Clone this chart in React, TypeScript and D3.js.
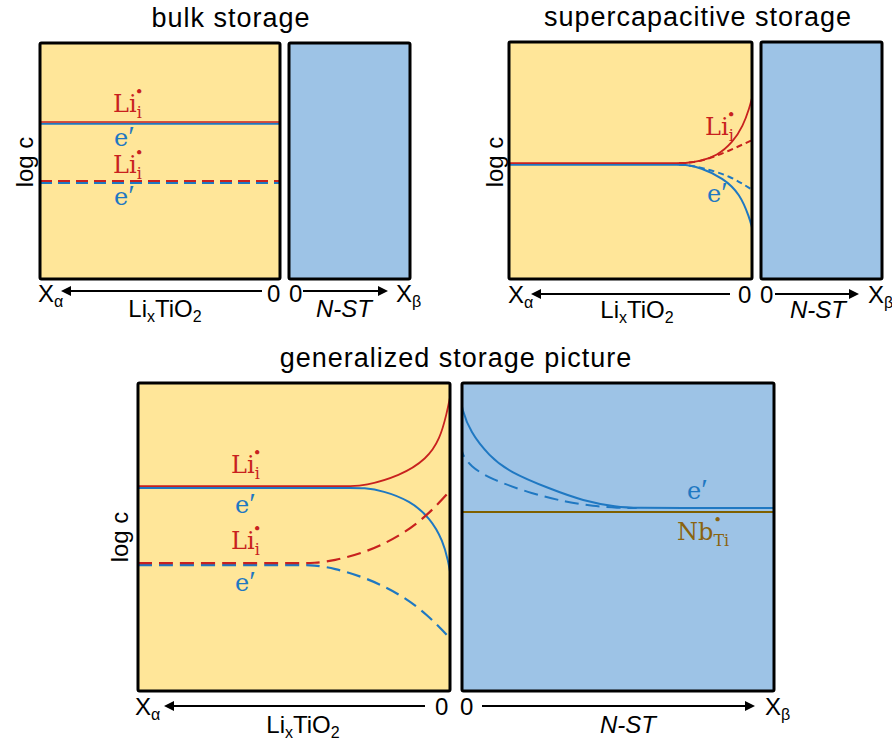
import React from "react";
import * as d3 from "d3";

// ---------- data (x: 0 = left edge of panel, 1 = right edge; y: relative log c, 0 = bottom, 1 = top)
type P = [number, number];
const titles = ["bulk storage", "supercapacitive storage", "generalized storage picture"];

const bulkLiSolid: P[] = [[0, 0.661], [1, 0.661]];
const bulkESolid: P[] = [[0, 0.661], [1, 0.661]];
const bulkLiDash: P[] = [[0, 0.411], [1, 0.411]];
const bulkEDash: P[] = [[0, 0.411], [1, 0.411]];

const superLiSolid: P[] = [[0, 0.485], [0.6, 0.485], [0.7, 0.485], [0.73, 0.485], [0.786, 0.493], [0.856, 0.515], [0.922, 0.574], [0.963, 0.641], [0.99, 0.72], [1, 0.76]];
const superLiDash: P[] = [[0.7, 0.485], [0.73, 0.485], [0.798, 0.494], [0.897, 0.532], [1, 0.582]];
const superEDash: P[] = [[0.7, 0.485], [0.73, 0.485], [0.798, 0.472], [0.909, 0.439], [1, 0.38]];
const superESolid: P[] = [[0, 0.485], [0.6, 0.485], [0.7, 0.485], [0.73, 0.485], [0.786, 0.474], [0.881, 0.43], [0.951, 0.363], [0.99, 0.26], [1, 0.22]];

const genLiSolid: P[] = [[0, 0.662], [0.6, 0.662], [0.69, 0.662], [0.721, 0.662], [0.84, 0.695], [0.926, 0.75], [0.968, 0.815], [0.99, 0.9], [1, 0.95]];
const genESolid: P[] = [[0, 0.662], [0.6, 0.662], [0.69, 0.662], [0.721, 0.662], [0.785, 0.653], [0.872, 0.62], [0.936, 0.565], [0.978, 0.49], [0.995, 0.42], [1, 0.39]];
const genLiDash: P[] = [[0, 0.412], [0.45, 0.412], [0.53, 0.412], [0.561, 0.412], [0.625, 0.419], [0.734, 0.448], [0.84, 0.5], [0.926, 0.565], [1, 0.646], [1.01, 0.66]];
const genEDash: P[] = [[0, 0.412], [0.45, 0.412], [0.53, 0.412], [0.561, 0.412], [0.625, 0.403], [0.734, 0.37], [0.84, 0.318], [0.926, 0.253], [1, 0.175], [1.01, 0.16]];

const nstESolid: P[] = [[-0.005, 0.95], [0.0, 0.912], [0.026, 0.838], [0.087, 0.76], [0.151, 0.708], [0.282, 0.653], [0.388, 0.614], [0.497, 0.594], [0.561, 0.591], [0.7, 0.591], [0.9, 0.591], [1, 0.591]];
const nstEDash: P[] = [[-0.005, 0.8], [0.0, 0.766], [0.026, 0.727], [0.09, 0.685], [0.228, 0.636], [0.337, 0.61], [0.42, 0.597], [0.5, 0.591], [0.56, 0.591]];
const nstNb: P[] = [[0, 0.581], [1, 0.581]];

// ---------- styles
const YELLOW = "#FFE699";
const BLUE = "#9DC3E6";
const RED = "#C8211E";
const LBLUE = "#1F78C2";
const BROWN = "#7F6000";
const SANS = "'Liberation Sans', Arial, sans-serif";
const SERIF = "'DejaVu Serif', serif";

type Box = { x: number; y: number; w: number; h: number };

interface Series { data: P[]; color: string; dash?: string; dy?: number; width?: number }

let clipId = 0;

function Panel({ box, fill, series }: { box: Box; fill: string; series: Series[] }) {
  const id = `clip${clipId++}`;
  const xs = d3.scaleLinear().domain([0, 1]).range([box.x, box.x + box.w]);
  const ys = d3.scaleLinear().domain([0, 1]).range([box.y + box.h, box.y]);
  const line = d3.line<P>().x((d) => xs(d[0])).y((d) => ys(d[1])).curve(d3.curveBasis);
  return (
    <g>
      <defs>
        <clipPath id={id}>
          <rect x={box.x} y={box.y} width={box.w} height={box.h} />
        </clipPath>
      </defs>
      <rect x={box.x} y={box.y} width={box.w} height={box.h} fill={fill} />
      <g clipPath={`url(#${id})`}>
        {series.map((s, i) => (
          <path
            key={i}
            d={line(s.data) || ""}
            transform={`translate(0,${s.dy || 0})`}
            fill="none"
            stroke={s.color}
            strokeWidth={s.width || 2}
            strokeDasharray={s.dash}
          />
        ))}
      </g>
      <rect x={box.x} y={box.y} width={box.w} height={box.h} fill="none" stroke="#000" strokeWidth={3} rx={1.5} />
    </g>
  );
}

function LiLabel({ x, y, color = RED }: { x: number; y: number; color?: string }) {
  return (
    <text x={x} y={y} fontFamily={SERIF} fontSize={24} fill={color}>
      Li
      <tspan dy={6} fontSize={16}>i</tspan>
      <tspan dx={-7} dy={-21} fontSize={15}>•</tspan>
    </text>
  );
}

function ELabel({ x, y, color = LBLUE }: { x: number; y: number; color?: string }) {
  return (
    <text x={x} y={y} fontFamily={SERIF} fontSize={24} fill={color}>
      e
      <tspan fontFamily="'Liberation Serif', serif" fontSize={30} dx={0}>′</tspan>
    </text>
  );
}

function NbLabel({ x, y }: { x: number; y: number }) {
  return (
    <text x={x} y={y} fontFamily={SERIF} fontSize={24} fill="#8A6410">
      Nb
      <tspan dy={6} fontSize={16}>Ti</tspan>
      <tspan dx={-16} dy={-21} fontSize={15}>•</tspan>
    </text>
  );
}

function Axis({ y, x0a, xTail, xTip, zeroL, zeroR, xTail2, xTip2, xb, base, liCx, nstCx, labBase }: any) {
  return (
    <g fontFamily={SANS} fontSize={24} fill="#000">
      <text x={x0a} y={base}>
        X<tspan dy={5} fontSize={16}>α</tspan>
      </text>
      <line x1={xTail} y1={y} x2={xTip + 9} y2={y} stroke="#000" strokeWidth={2} markerEnd="url(#arrow)" />
      <text x={zeroL} y={base}>0</text>
      <text x={zeroR} y={base}>0</text>
      <line x1={xTail2} y1={y} x2={xTip2 - 9} y2={y} stroke="#000" strokeWidth={2} markerEnd="url(#arrow)" />
      <text x={xb} y={base}>
        X<tspan dy={5} fontSize={16}>β</tspan>
      </text>
      <text x={liCx} y={labBase} textAnchor="middle">
        Li<tspan dy={5} fontSize={16}>x</tspan>
        <tspan dy={-5}>TiO</tspan>
        <tspan dy={5} fontSize={16}>2</tspan>
      </text>
      <text x={nstCx} y={labBase} textAnchor="middle" fontStyle="italic">N-ST</text>
    </g>
  );
}

function LogC({ x, y }: { x: number; y: number }) {
  return (
    <text transform={`translate(${x},${y}) rotate(-90)`} textAnchor="middle" fontFamily={SANS} fontSize={24}>
      log c
    </text>
  );
}

export default function App() {
  clipId = 0;
  const tlY: Box = { x: 40, y: 43, w: 240, h: 236 };
  const tlB: Box = { x: 289, y: 43, w: 121, h: 236 };
  const trY: Box = { x: 509, y: 42, w: 243, h: 237 };
  const trB: Box = { x: 761, y: 42, w: 121, h: 237 };
  const bY: Box = { x: 138, y: 383, w: 312, h: 308 };
  const bB: Box = { x: 462, y: 383, w: 312, h: 308 };
  const titleStyle = { fontFamily: SANS, fontSize: 27, letterSpacing: 1 } as const;
  return (
    <svg width={892} height={740} style={{ display: "block", position: "absolute", left: 0, top: 0 }}>
      <defs>
        <marker id="arrow" viewBox="0 0 10 10" refX={0} refY={5} markerWidth={5.5} markerHeight={5} orient="auto" markerUnits="strokeWidth">
          <path d="M0,0 L10,5 L0,10 z" fill="#000" />
        </marker>
      </defs>
      <rect width={892} height={740} fill="#fff" />

      {/* titles */}
      <text x={231} y={27} textAnchor="middle" {...titleStyle}>{titles[0]}</text>
      <text x={698} y={26} textAnchor="middle" {...titleStyle}>{titles[1]}</text>
      <text x={456} y={367} textAnchor="middle" {...titleStyle}>{titles[2]}</text>

      {/* top-left: bulk storage */}
      <Panel
        box={tlY}
        fill={YELLOW}
        series={[
          { data: bulkESolid, color: LBLUE, dy: 0.8 },
          { data: bulkLiSolid, color: RED, dy: -1, width: 1.5 },
          { data: bulkEDash, color: LBLUE, dy: 1, dash: "12 6", width: 2.2 },
          { data: bulkLiDash, color: RED, dy: -1, dash: "12 6", width: 2.2 },
        ]}
      />
      <Panel box={tlB} fill={BLUE} series={[]} />
      <LiLabel x={113} y={112} />
      <ELabel x={114} y={146} />
      <LiLabel x={113} y={173} />
      <ELabel x={114} y={205} />
      <LogC x={33} y={162} />
      <Axis y={291} x0a={38} xTail={262} xTip={62} zeroL={267} zeroR={289} xTail2={303} xTip2={387} xb={396} base={302} liCx={165} nstCx={344} labBase={317} />

      {/* top-right: supercapacitive */}
      <Panel
        box={trY}
        fill={YELLOW}
        series={[
          { data: superEDash, color: LBLUE, dy: 0.8, dash: "6 4" },
          { data: superLiDash, color: RED, dy: -1, dash: "6 4" },
          { data: superESolid, color: LBLUE, dy: 0.8 },
          { data: superLiSolid, color: RED, dy: -1, width: 1.8 },
        ]}
      />
      <Panel box={trB} fill={BLUE} series={[]} />
      <LiLabel x={705} y={135} />
      <ELabel x={707} y={202} />
      <LogC x={503} y={162} />
      <Axis y={294} x0a={508} xTail={730} xTip={532} zeroL={738} zeroR={760} xTail2={775} xTip2={858} xb={868} base={303} liCx={637} nstCx={818} labBase={318} />

      {/* bottom: generalized */}
      <Panel
        box={bY}
        fill={YELLOW}
        series={[
          { data: genESolid, color: LBLUE, dy: 0.8 },
          { data: genLiSolid, color: RED, dy: -1, width: 1.8 },
          { data: genEDash, color: LBLUE, dy: 1, dash: "14 7", width: 2.2 },
          { data: genLiDash, color: RED, dy: -1, dash: "14 7", width: 2.2 },
        ]}
      />
      <Panel
        box={bB}
        fill={BLUE}
        series={[
          { data: nstNb, color: BROWN, width: 2 },
          { data: nstEDash, color: LBLUE, dash: "14 7", dy: -1 },
          { data: nstESolid, color: LBLUE, dy: -1 },
        ]}
      />
      <LiLabel x={231} y={473} />
      <ELabel x={235} y={513} />
      <LiLabel x={231} y={549} />
      <ELabel x={235} y={591} />
      <ELabel x={687} y={499} />
      <NbLabel x={677} y={540} />
      <LogC x={128} y={537} />
      <Axis y={706} x0a={135} xTail={425} xTip={165} zeroL={435} zeroR={460} xTail2={482} xTip2={754} xb={765} base={715} liCx={303} nstCx={628} labBase={733} />
    </svg>
  );
}
